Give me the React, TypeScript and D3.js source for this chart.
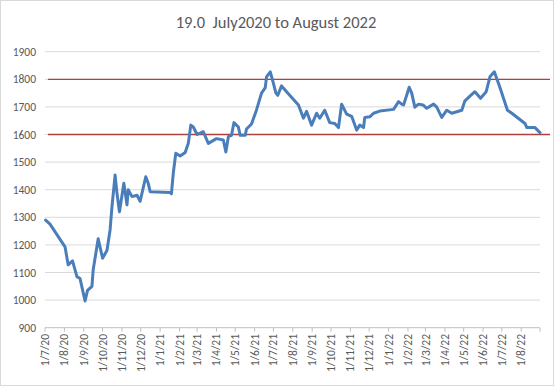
import React from "react";
import * as d3 from "d3";

const dates = [
  "2020-07-02", "2020-07-09", "2020-08-02", "2020-08-07", "2020-08-14", "2020-08-21", "2020-08-26",
  "2020-09-03", "2020-09-07", "2020-09-14", "2020-09-16", "2020-09-24", "2020-10-01", "2020-10-08",
  "2020-10-13", "2020-10-16", "2020-10-21", "2020-10-24", "2020-10-28", "2020-11-04", "2020-11-09",
  "2020-11-11", "2020-11-17", "2020-11-25", "2020-11-30", "2020-12-09", "2020-12-13", "2020-12-16",
  "2021-01-17", "2021-01-19", "2021-01-22", "2021-01-26", "2021-02-02", "2021-02-10", "2021-02-15",
  "2021-02-19", "2021-02-23", "2021-03-01", "2021-03-11", "2021-03-19", "2021-04-01", "2021-04-12",
  "2021-04-16", "2021-04-20", "2021-04-25", "2021-04-29", "2021-05-06", "2021-05-09", "2021-05-17",
  "2021-05-19", "2021-05-27", "2021-06-04", "2021-06-12", "2021-06-18", "2021-06-20", "2021-06-26",
  "2021-07-01", "2021-07-05", "2021-07-08", "2021-07-14", "2021-07-22", "2021-08-10", "2021-08-18",
  "2021-08-23", "2021-08-31", "2021-09-08", "2021-09-13", "2021-09-21", "2021-09-29", "2021-10-07",
  "2021-10-13", "2021-10-18", "2021-10-26", "2021-11-03", "2021-11-11", "2021-11-16", "2021-11-22",
  "2021-11-24", "2021-12-02", "2021-12-08", "2021-12-18", "2022-01-09", "2022-01-17", "2022-01-22",
  "2022-01-25", "2022-02-03", "2022-02-07", "2022-02-12", "2022-02-18", "2022-02-25", "2022-03-03",
  "2022-03-14", "2022-03-19", "2022-03-27", "2022-04-04", "2022-04-12", "2022-04-28", "2022-05-03",
  "2022-05-11", "2022-05-19", "2022-05-28", "2022-06-06", "2022-06-12", "2022-06-19", "2022-06-28",
  "2022-07-10", "2022-07-17", "2022-08-07", "2022-08-10", "2022-08-23", "2022-08-31",
];

const values = [
  1290, 1275, 1193, 1128, 1142, 1085, 1078,
  997, 1035, 1050, 1110, 1222, 1152, 1180,
  1254, 1338, 1453, 1387, 1320, 1423, 1345,
  1400, 1375, 1380, 1358, 1447, 1423, 1393,
  1390, 1385, 1460, 1532, 1522, 1535, 1568,
  1634, 1627, 1600, 1610, 1568, 1585, 1580,
  1537, 1592, 1597, 1643, 1627, 1597, 1597,
  1620, 1638, 1689, 1750, 1770, 1809, 1827,
  1785, 1750, 1742, 1776, 1755, 1707, 1659,
  1684, 1634, 1677, 1659, 1688, 1643, 1640,
  1625, 1710, 1674, 1666, 1616, 1634, 1625,
  1662, 1664, 1677, 1685, 1691, 1719, 1710,
  1707, 1771, 1750, 1699, 1710, 1707, 1695,
  1710, 1699, 1662, 1688, 1677, 1688, 1722,
  1739, 1755, 1731, 1755, 1809, 1827, 1770,
  1688, 1677, 1640, 1625, 1625, 1607,
];

const yTicks = [900, 1000, 1100, 1200, 1300, 1400, 1500, 1600, 1700, 1800, 1900];
const refLines = [1600, 1800];
const title = "19.0  July2020 to August 2022";

const W = 555;
const H = 387;

export default function App() {
  const parse = d3.timeParse("%Y-%m-%d");
  const data = dates.map((d, i) => ({ date: parse(d) as Date, value: values[i] }));

  const x = d3
    .scaleTime()
    .domain([new Date(2020, 6, 1), new Date(2022, 7, 31)])
    .range([45, 540]);
  const y = d3.scaleLinear().domain([900, 1900]).range([327.7, 51.7]);

  const months = d3.timeMonth.range(new Date(2020, 6, 1), new Date(2022, 7, 2));
  const fmt = (d: Date) => `1/${d.getMonth() + 1}/${String(d.getFullYear()).slice(2)}`;

  const line = d3
    .line<{ date: Date; value: number }>()
    .x((d) => x(d.date))
    .y((d) => y(d.value));

  const font = "Calibri, Carlito, 'Liberation Sans', Arial, sans-serif";

  return (
    <svg
      width={W}
      height={H}
      style={{ position: "fixed", left: 0, top: 0, background: "#fff" }}
      fontFamily={font}
    >
      <rect x={0.5} y={0.5} width={W - 2} height={H - 2} fill="#fff" stroke="#d9d9d9" />
      <text
        x={276}
        y={28}
        textAnchor="middle"
        fontSize={16.5}
        fill="#595959"
        style={{ whiteSpace: "pre" }}
      >
        {title}
      </text>

      {yTicks.map((t) => (
        <g key={t}>
          {t !== 900 && (
            <line x1={45} x2={540} y1={y(t)} y2={y(t)} stroke="#d9d9d9" strokeWidth={1} />
          )}
          <text x={36} y={y(t)} dy="0.35em" textAnchor="end" fontSize={11.5} fill="#595959">
            {t}
          </text>
        </g>
      ))}

      <line x1={45} x2={540} y1={y(900)} y2={y(900)} stroke="#bfbfbf" />
      {months.concat([new Date(2022, 7, 31)]).map((m, i) => (
        <line key={i} x1={x(m)} x2={x(m)} y1={y(900)} y2={y(900) + 4} stroke="#bfbfbf" />
      ))}
      {months.map((m, i) => (
        <text
          key={i}
          transform={`translate(${x(m)},${334}) rotate(-90)`}
          textAnchor="end"
          dy="0.35em"
          fontSize={11.5}
          fill="#595959"
        >
          {fmt(m)}
        </text>
      ))}

      {refLines.map((r) => (
        <line key={r} x1={48} x2={550} y1={y(r)} y2={y(r)} stroke="#b0403c" strokeWidth={1.3} />
      ))}

      <path
        d={line(data) || ""}
        fill="none"
        stroke="#4a7ebb"
        strokeWidth={3}
        strokeLinejoin="round"
        strokeLinecap="round"
      />
    </svg>
  );
}
